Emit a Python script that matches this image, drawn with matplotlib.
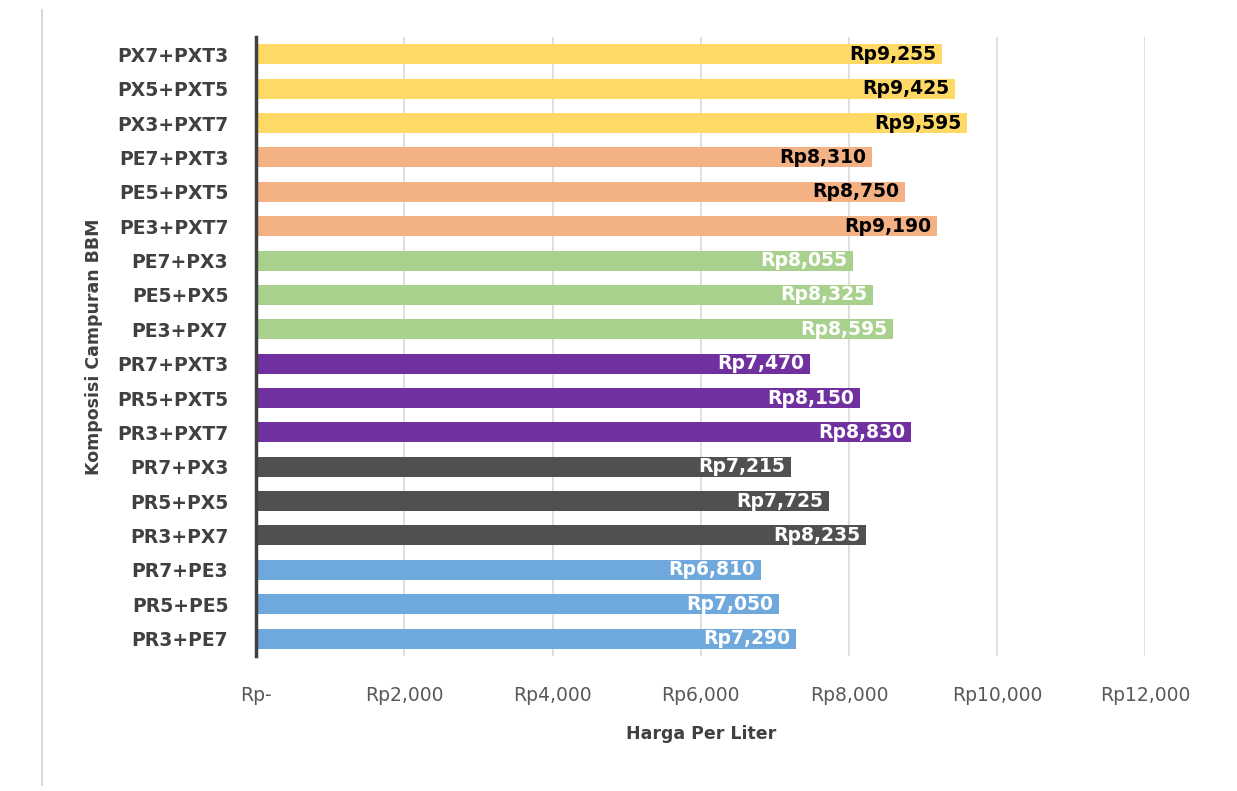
import matplotlib
matplotlib.use("Agg")
import matplotlib.pyplot as plt
from matplotlib.lines import Line2D

plt.rcParams['font.family'] = ['DejaVu Sans']

# data, bottom to top
komposisi = ['PR3+PE7', 'PR5+PE5', 'PR7+PE3',
             'PR3+PX7', 'PR5+PX5', 'PR7+PX3',
             'PR3+PXT7', 'PR5+PXT5', 'PR7+PXT3',
             'PE3+PX7', 'PE5+PX5', 'PE7+PX3',
             'PE3+PXT7', 'PE5+PXT5', 'PE7+PXT3',
             'PX3+PXT7', 'PX5+PXT5', 'PX7+PXT3']
harga = [7290, 7050, 6810,
         8235, 7725, 7215,
         8830, 8150, 7470,
         8595, 8325, 8055,
         9190, 8750, 8310,
         9595, 9425, 9255]
grup_warna = ['#6FA8DC', '#505050', '#7030A0', '#A9D18E', '#F4B183', '#FFD966']
grup_teks = ['white', 'white', 'white', 'white', 'black', 'black']
xticks = [0, 2000, 4000, 6000, 8000, 10000, 12000]
xticklabels = ['Rp-', 'Rp2,000', 'Rp4,000', 'Rp6,000', 'Rp8,000', 'Rp10,000', 'Rp12,000']

warna = [grup_warna[i // 3] for i in range(len(harga))]
teks_warna = [grup_teks[i // 3] for i in range(len(harga))]

fig = plt.figure(figsize=(12.37, 7.91), dpi=100)
ax = fig.add_axes([0.207, 0.171, 0.719, 0.782])

y = list(range(len(harga)))
ax.barh(y, harga, height=0.58, color=warna, zorder=2)

for yi, v, c in zip(y, harga, teks_warna):
    ax.annotate('Rp{:,}'.format(v), (v, yi), xytext=(-4, 0), textcoords='offset points',
                ha='right', va='center', fontsize=13.5, fontweight='bold', color=c, zorder=3)

ax.set_xlim(0, 12000)
ax.set_ylim(-0.5, len(harga) - 0.5)
ax.set_xticks(xticks)
ax.set_xticklabels(xticklabels, fontsize=13.5, color='#595959')
ax.set_yticks(y)
ax.set_yticklabels(komposisi, fontsize=13.5, fontweight='bold', color='#404040')
ax.tick_params(axis='x', length=0, pad=22)
ax.tick_params(axis='y', length=0, pad=20)
ax.grid(axis='x', color='#D9D9D9', linewidth=1.2, zorder=0)
ax.set_axisbelow(True)

for s in ['top', 'right', 'bottom']:
    ax.spines[s].set_visible(False)
ax.spines['left'].set_color('#404040')
ax.spines['left'].set_linewidth(2.5)
ax.spines['left'].set_zorder(4)

ax.set_xlabel('Harga Per Liter', fontsize=12.5, fontweight='bold', color='#404040', labelpad=14)
ax.set_ylabel('Komposisi Campuran BBM', fontsize=12.5, fontweight='bold', color='#404040', labelpad=10)

fig.add_artist(Line2D([0.034, 0.034], [0.007, 0.987], color='#D0D0D0', linewidth=1.2,
                      transform=fig.transFigure))

fig.savefig('out.png', dpi=100)
